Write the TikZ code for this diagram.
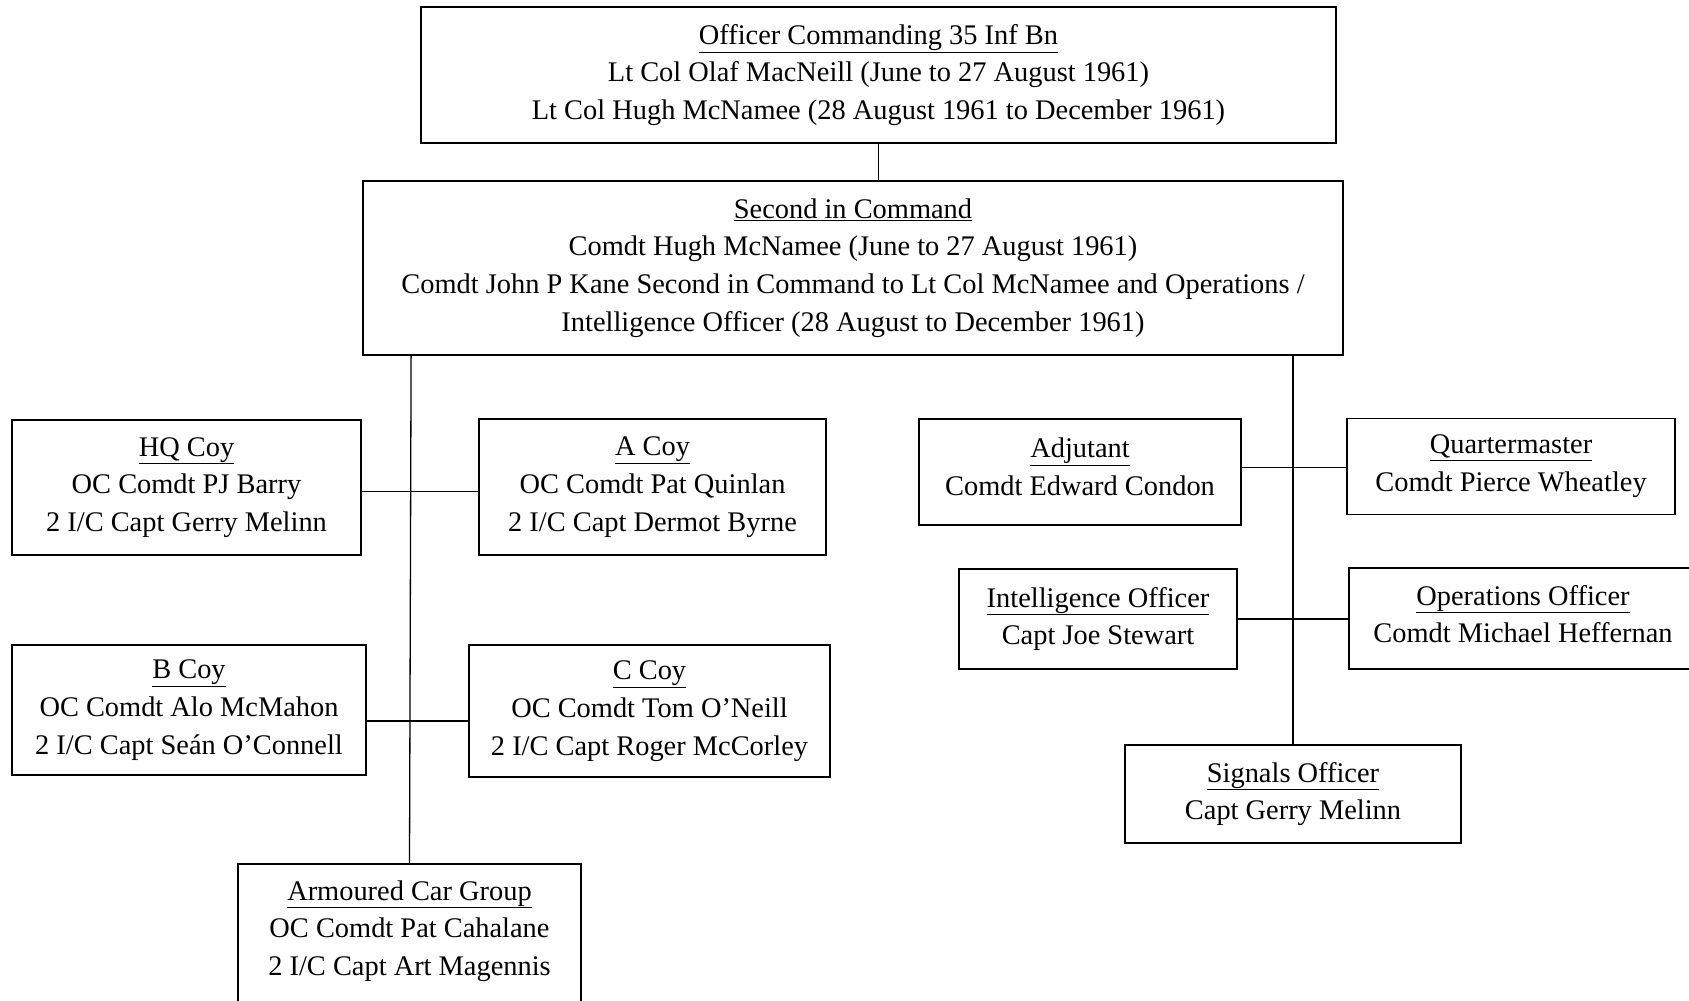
\documentclass[tikz,border=0pt]{standalone}
\usepackage{fontspec}
\setmainfont{Liberation Serif}
\usetikzlibrary{calc}
\begin{document}
\begin{tikzpicture}[x=1pt,y=-1pt,
  txt/.style={inner sep=0pt, align=center, font=\fontsize{28.4}{37.7}\selectfont},
  box/.style={txt, draw=black, line width=1.8pt, rectangle},
  conn/.style={draw=black, line width=1.3pt}]
\clip (0,0) rectangle (1689,1001);
\fill[white] (0,0) rectangle (1689,1001);
% top levels
\node[box, minimum width=915pt, minimum height=135.5pt] (oc) at (878.5,75)
  {\underline{Officer Commanding 35 Inf Bn}\\Lt Col Olaf MacNeill (June to 27 August 1961)\\Lt Col Hugh McNamee (28 August 1961 to December 1961)};
\node[box, minimum width=980pt, minimum height=174pt] (sic) at (853,268)
  {\underline{Second in Command}\\Comdt Hugh McNamee (June to 27 August 1961)\\Comdt John P Kane Second in Command to Lt Col McNamee and Operations /\\Intelligence Officer (28 August to December 1961)};
% left branch
\node[box, minimum width=349pt, minimum height=135pt] (hq) at (186.5,487.5)
  {\underline{HQ Coy}\\OC Comdt PJ Barry\\2 I/C Capt Gerry Melinn};
\node[box, minimum width=347pt, minimum height=136pt] (acoy) at (652.5,487)
  {\underline{A Coy}\\OC Comdt Pat Quinlan\\2 I/C Capt Dermot Byrne};
\node[box, minimum width=354pt, minimum height=130pt] (bcoy) at (189,710)
  {\underline{B Coy}\\OC Comdt Alo McMahon\\2 I/C Capt Seán O’Connell};
\node[box, minimum width=361pt, minimum height=132pt] (ccoy) at (649.5,711)
  {\underline{C Coy}\\OC Comdt Tom O’Neill\\2 I/C Capt Roger McCorley};
\node[box, minimum width=343pt, minimum height=150pt, anchor=north] (acg) at (409.5,863) {};
\node[txt] (acgtext) at (409.5,931)
  {\underline{Armoured Car Group}\\OC Comdt Pat Cahalane\\2 I/C Capt Art Magennis};
% right branch
\node[box, minimum width=322pt, minimum height=106pt] (adj) at (1080,472) {};
\node[txt] (adjtext) at (1080,466.5)
  {\underline{Adjutant}\\Comdt Edward Condon};
\node[box, minimum width=328pt, minimum height=96pt] (qm) at (1511,466.5)
  {\underline{Quartermaster}\\Comdt Pierce Wheatley};
\node[box, minimum width=278pt, minimum height=100pt] (int) at (1098,619)
  {\underline{Intelligence Officer}\\Capt Joe Stewart};
\node[box, minimum width=348pt, minimum height=101pt] (ops) at (1523,618.5) {};
\node[txt] (opstext) at (1523,614)
  {\underline{Operations Officer}\\Comdt Michael Heffernan};
\node[box, minimum width=336pt, minimum height=98pt] (sig) at (1293,794)
  {\underline{Signals Officer}\\Capt Gerry Melinn};
% junction coordinates
\coordinate (jhq) at (411,491.5);
\coordinate (jb) at (410,721);
\coordinate (jadj) at (1294,467.5);
\coordinate (jint) at (1294,619);
% connectors
\draw[conn] (oc.south) -- (oc.south |- sic.north);
\draw[conn] ($(sic.south west)+(49,0)$) -- (acg.north);
\draw[conn] (sig.north |- sic.south) -- (sig.north);
\draw[conn] (hq.east |- jhq) -- (acoy.west |- jhq);
\draw[conn] (bcoy.east |- jb) -- (ccoy.west |- jb);
\draw[conn] (adj.east |- jadj) -- (qm.west |- jadj);
\draw[conn] (int.east |- jint) -- (ops.west |- jint);
\end{tikzpicture}
\end{document}
